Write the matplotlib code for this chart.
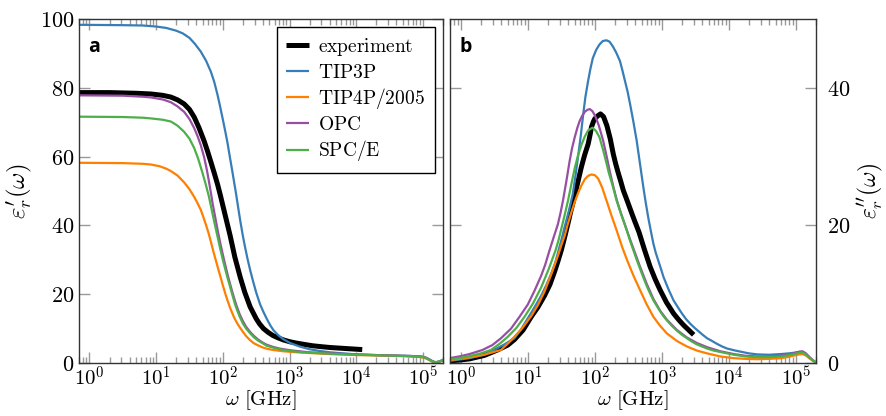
import numpy as np
import matplotlib
matplotlib.use("Agg")
import matplotlib.pyplot as plt
from matplotlib.ticker import FixedLocator, LogLocator, FuncFormatter, NullFormatter

plt.rcParams['mathtext.fontset'] = 'cm'

# ---- data (x given as log10 of omega in GHz) ----
series = ['experiment', 'TIP3P', 'TIP4P/2005', 'OPC', 'SPC/E']
colors = ['#000000', '#377eb8', '#ff7f00', '#984ea3', '#4daf4a']
widths = [3.6, 1.6, 1.6, 1.6, 1.6]

# panel a: real part eps'
exp_re_lw = [-0.15, 0.3, 0.7, 0.92, 1.1, 1.22, 1.32, 1.42, 1.5, 1.57, 1.64, 1.72, 1.77, 1.82, 1.87,
             1.92, 1.96, 2.0, 2.05, 2.11, 2.18, 2.26, 2.33, 2.41, 2.5, 2.55, 2.61, 2.68, 2.75, 2.83,
             2.91, 3.0, 3.1, 3.22, 3.35, 3.5, 3.61, 3.85, 4.09]
exp_re = [78.6, 78.6, 78.4, 78.2, 77.8, 77.3, 76.5, 75.3, 73.7, 71.5, 68.5, 64.5, 61.6, 58.5, 55.3,
          52.0, 49.0, 45.8, 41.8, 37.0, 30.8, 25.0, 20.5, 16.3, 12.9, 11.4, 10.0, 8.9, 8.0, 7.3,
          6.7, 6.2, 5.8, 5.4, 5.0, 4.7, 4.5, 4.2, 3.9]

tip3p_re_lw = [-0.15, 0.5, 0.8, 1.0, 1.15, 1.3, 1.4, 1.5, 1.58, 1.67, 1.75, 1.82, 1.87, 1.92, 1.96,
               2.0, 2.04, 2.07, 2.1, 2.14, 2.17, 2.2, 2.23, 2.26, 2.3, 2.33, 2.37, 2.41, 2.45, 2.5,
               2.56, 2.61, 2.66, 2.71, 2.76, 2.83, 2.9, 3.01, 3.15, 3.3, 3.45, 3.61, 3.8, 4.0, 4.3,
               4.6, 4.8, 4.92, 5.0, 5.05, 5.1, 5.14, 5.17, 5.2, 5.24, 5.28, 5.31]
tip3p_re = [98.3, 98.2, 98.1, 97.8, 97.4, 96.6, 95.8, 94.5, 92.8, 90.5, 87.8, 84.7, 81.8, 78.0, 74.5,
            70.8, 67.0, 64.0, 60.5, 56.0, 52.5, 49.0, 45.2, 41.5, 37.0, 34.0, 30.3, 27.0, 24.0, 20.5,
            17.0, 14.8, 12.8, 11.0, 9.5, 8.1, 7.0, 5.8, 4.8, 4.0, 3.5, 3.1, 2.8, 2.5, 2.3,
            2.15, 2.05, 1.95, 1.8, 1.5, 1.0, 0.55, 0.3, 0.25, 0.4, 0.7, 1.0]

tip4p_re_lw = [-0.15, 0.5, 0.8, 0.92, 1.05, 1.15, 1.22, 1.32, 1.42, 1.5, 1.57, 1.62, 1.67, 1.71, 1.75,
               1.79, 1.82, 1.86, 1.9, 1.94, 1.97, 2.0, 2.04, 2.07, 2.11, 2.15, 2.18, 2.22, 2.26, 2.3,
               2.35, 2.4, 2.46, 2.53, 2.6, 2.67, 2.75, 2.83, 2.91, 3.05, 3.2, 3.4, 3.61, 3.8, 4.0,
               4.3, 4.6, 4.8, 4.92, 5.0, 5.05, 5.1, 5.14, 5.17, 5.2, 5.24, 5.28, 5.31]
tip4p_re = [58.2, 58.1, 57.9, 57.7, 57.2, 56.5, 55.8, 54.5, 52.5, 50.5, 48.3, 46.5, 44.5, 42.3, 40.0,
            37.5, 35.3, 32.3, 29.5, 26.7, 24.7, 22.6, 20.0, 18.2, 16.0, 14.1, 12.8, 11.4, 10.2, 9.1,
            7.8, 6.8, 5.8, 5.1, 4.5, 4.1, 3.8, 3.6, 3.4, 3.2, 3.0, 2.8, 2.6, 2.45, 2.3,
            2.2, 2.05, 1.9, 1.8, 1.6, 1.3, 0.8, 0.4, 0.2, 0.15, 0.3, 0.6, 0.9]

opc_re_lw = [-0.15, 0.5, 0.8, 0.92, 1.1, 1.22, 1.32, 1.42, 1.5, 1.57, 1.62, 1.67, 1.72, 1.76, 1.79,
             1.82, 1.85, 1.88, 1.92, 1.96, 2.0, 2.04, 2.07, 2.1, 2.14, 2.18, 2.21, 2.25, 2.3, 2.35,
             2.41, 2.47, 2.53, 2.6, 2.66, 2.75, 2.85, 3.01, 3.15, 3.3, 3.45, 3.61, 3.8, 4.0, 4.3,
             4.6, 4.8, 4.92, 5.0, 5.05, 5.1, 5.14, 5.17, 5.2, 5.24, 5.28, 5.31]
opc_re = [77.8, 77.7, 77.4, 77.2, 76.6, 75.8, 74.6, 73.0, 70.9, 68.3, 66.0, 63.3, 59.8, 56.2, 53.0,
          49.6, 46.0, 43.0, 38.8, 35.0, 31.5, 28.2, 25.8, 23.6, 20.8, 18.2, 16.4, 14.3, 12.2, 10.5,
          9.0, 7.8, 6.8, 5.9, 5.3, 4.7, 4.2, 3.7, 3.4, 3.1, 2.95, 2.8, 2.65, 2.5, 2.3,
          2.15, 2.05, 1.95, 1.8, 1.5, 1.0, 0.55, 0.3, 0.25, 0.4, 0.7, 1.0]

spce_re_lw = [-0.15, 0.5, 0.8, 0.92, 1.1, 1.22, 1.32, 1.42, 1.5, 1.57, 1.63, 1.69, 1.74, 1.79, 1.82,
              1.85, 1.88, 1.92, 1.96, 2.0, 2.04, 2.07, 2.1, 2.14, 2.18, 2.21, 2.25, 2.3, 2.35, 2.41,
              2.47, 2.53, 2.6, 2.66, 2.75, 2.85, 3.01, 3.15, 3.3, 3.45, 3.61, 3.8, 4.0, 4.3, 4.6,
              4.8, 4.92, 5.0, 5.05, 5.1, 5.14, 5.17, 5.2, 5.24, 5.28, 5.31]
spce_re = [71.6, 71.5, 71.3, 71.1, 70.7, 70.2, 69.0, 67.2, 65.2, 62.5, 59.4, 55.6, 52.2, 48.5, 45.8,
           43.0, 40.3, 36.8, 33.3, 30.0, 27.0, 24.8, 22.8, 20.0, 17.3, 15.6, 13.6, 11.5, 10.0, 8.6,
           7.4, 6.5, 5.7, 5.0, 4.5, 4.0, 3.5, 3.2, 3.0, 2.85, 2.7, 2.55, 2.4, 2.25, 2.1,
           2.0, 1.9, 1.7, 1.4, 0.9, 0.5, 0.3, 0.25, 0.4, 0.7, 1.0]

# panel b: imaginary part eps''
exp_im_lw = [-0.17, 0.0, 0.13, 0.35, 0.55, 0.7, 0.8, 0.93, 1.05, 1.15, 1.25, 1.33, 1.4, 1.45, 1.5,
             1.55, 1.6, 1.64, 1.68, 1.74, 1.8, 1.85, 1.9, 1.93, 1.95, 1.98, 2.0, 2.04, 2.085, 2.13,
             2.18, 2.23, 2.275, 2.31, 2.35, 2.39, 2.425, 2.49, 2.55, 2.6, 2.66, 2.74, 2.825, 2.9,
             2.975, 3.07, 3.175, 3.25, 3.325, 3.4, 3.475]
exp_im = [0.3, 0.45, 0.6, 1.1, 1.9, 2.6, 3.4, 4.8, 6.7, 8.1, 9.8, 11.4, 13.3, 14.8, 16.4,
          18.3, 20.3, 22.0, 23.5, 26.0, 28.5, 30.3, 31.8, 33.2, 34.3, 35.1, 35.5, 35.9, 36.2, 35.8,
          34.5, 32.6, 30.4, 29.0, 27.6, 26.3, 25.1, 23.4, 21.8, 20.5, 19.0, 16.5, 14.0, 12.2,
          10.6, 8.8, 7.2, 6.3, 5.5, 4.8, 4.1]

tip3p_im_lw = [-0.17, 0.13, 0.35, 0.5, 0.65, 0.8, 0.9, 1.0, 1.1, 1.2, 1.28, 1.35, 1.41, 1.46, 1.51,
               1.55, 1.61, 1.67, 1.71, 1.75, 1.79, 1.825, 1.86, 1.9, 1.935, 1.97, 2.02, 2.07, 2.12,
               2.175, 2.22, 2.27, 2.32, 2.375, 2.41, 2.45, 2.49, 2.525, 2.575, 2.625, 2.675, 2.725,
               2.76, 2.8, 2.84, 2.875, 2.91, 2.95, 2.99, 3.025, 3.1, 3.175, 3.24, 3.3, 3.36, 3.425,
               3.49, 3.55, 3.61, 3.675, 3.75, 3.82, 3.9, 3.975, 4.1, 4.2, 4.3, 4.425, 4.6, 4.775,
               4.9, 4.98, 5.05, 5.1, 5.15, 5.2, 5.25, 5.31]
tip3p_im = [0.3, 0.7, 1.2, 1.9, 2.7, 3.6, 4.9, 6.5, 8.1, 9.8, 11.4, 13.0, 14.6, 16.4, 18.2,
            19.8, 22.0, 24.5, 27.1, 30.0, 33.0, 36.0, 38.7, 41.0, 42.8, 44.3, 45.5, 46.3, 46.8,
            46.9, 46.7, 46.0, 45.1, 43.9, 42.6, 41.0, 39.4, 37.7, 35.1, 32.3, 28.9, 25.5,
            23.3, 21.0, 19.0, 17.3, 16.0, 14.8, 13.6, 12.5, 10.7, 9.1, 8.1, 7.2, 6.4, 5.7,
            5.1, 4.6, 4.1, 3.6, 3.2, 2.8, 2.4, 2.1, 1.8, 1.6, 1.4, 1.25, 1.2, 1.3,
            1.4, 1.5, 1.6, 1.6, 1.3, 0.8, 0.4, 0.0]

tip4p_im_lw = [-0.17, 0.13, 0.35, 0.6, 0.7, 0.8, 0.92, 1.05, 1.15, 1.25, 1.35, 1.45, 1.5, 1.55, 1.6,
               1.65, 1.7, 1.75, 1.8, 1.85, 1.9, 1.95, 2.0, 2.05, 2.11, 2.175, 2.25, 2.325, 2.41, 2.5,
               2.59, 2.675, 2.775, 2.875, 2.975, 3.075, 3.225, 3.375, 3.525, 3.675, 3.875, 4.075,
               4.25, 4.425, 4.6, 4.775, 4.9, 4.98, 5.05, 5.1, 5.15, 5.2, 5.25, 5.31]
tip4p_im = [0.4, 0.8, 1.2, 1.9, 2.8, 3.8, 5.1, 6.8, 8.4, 10.4, 12.9, 15.6, 17.1, 18.5, 20.3,
            21.9, 23.4, 24.7, 25.8, 26.7, 27.2, 27.4, 27.3, 26.8, 25.5, 23.6, 21.4, 19.3, 16.8, 14.5,
            12.4, 10.6, 8.5, 6.7, 5.4, 4.3, 3.2, 2.4, 1.8, 1.4, 0.95, 0.7,
            0.6, 0.55, 0.6, 0.7, 0.9, 1.1, 1.25, 1.3, 1.1, 0.7, 0.35, 0.0]

opc_im_lw = [-0.17, 0.0, 0.13, 0.325, 0.47, 0.6, 0.75, 0.875, 1.0, 1.1, 1.2, 1.26, 1.325, 1.39, 1.45,
             1.49, 1.525, 1.575, 1.625, 1.66, 1.7, 1.74, 1.775, 1.81, 1.85, 1.89, 1.925, 1.965, 2.0,
             2.03, 2.06, 2.09, 2.125, 2.175, 2.225, 2.275, 2.325, 2.375, 2.425, 2.475, 2.525, 2.6,
             2.675, 2.775, 2.875, 2.975, 3.075, 3.225, 3.375, 3.525, 3.675, 3.875, 4.075, 4.25,
             4.425, 4.6, 4.775, 4.9, 4.98, 5.05, 5.1, 5.15, 5.2, 5.25, 5.31]
opc_im = [0.7, 1.0, 1.3, 1.9, 2.6, 3.6, 5.0, 6.7, 8.5, 10.5, 12.7, 14.3, 16.4, 18.4, 20.2,
          21.9, 23.6, 26.4, 29.4, 31.2, 32.8, 34.2, 35.2, 35.9, 36.5, 36.8, 36.9, 36.6, 36.0,
          35.3, 34.5, 33.5, 32.3, 30.1, 27.8, 25.7, 23.8, 22.2, 20.8, 19.4, 18.0, 16.0,
          14.0, 11.5, 9.3, 7.6, 6.3, 4.8, 3.7, 2.9, 2.3, 1.7, 1.3, 1.05,
          0.95, 0.95, 1.05, 1.25, 1.45, 1.65, 1.7, 1.4, 0.9, 0.45, 0.0]

spce_im_lw = [-0.17, 0.0, 0.13, 0.3, 0.45, 0.58, 0.7, 0.83, 0.95, 1.08, 1.2, 1.31, 1.415, 1.46, 1.5,
              1.55, 1.6, 1.65, 1.7, 1.75, 1.8, 1.85, 1.9, 1.965, 2.02, 2.07, 2.12, 2.175, 2.21, 2.25,
              2.29, 2.325, 2.36, 2.4, 2.44, 2.475, 2.525, 2.575, 2.625, 2.675, 2.725, 2.775, 2.825,
              2.875, 2.925, 2.975, 3.025, 3.075, 3.15, 3.225, 3.3, 3.375, 3.45, 3.525, 3.6, 3.675,
              3.775, 3.875, 3.975, 4.075, 4.25, 4.425, 4.6, 4.775, 4.9, 4.98, 5.05, 5.1, 5.15, 5.2,
              5.25, 5.31]
spce_im = [0.5, 0.75, 1.0, 1.4, 1.9, 2.8, 3.8, 5.1, 6.7, 8.7, 11.0, 13.6, 16.4, 17.9, 19.5,
           21.5, 23.6, 26.0, 28.3, 30.2, 31.7, 32.9, 33.8, 34.2, 33.7, 32.8, 31.1, 29.0, 27.6, 26.3,
           24.9, 23.6, 22.6, 21.4, 20.3, 19.3, 17.8, 16.4, 15.0, 13.7, 12.4, 11.2, 10.1,
           9.1, 8.3, 7.5, 6.8, 6.2, 5.4, 4.7, 4.1, 3.6, 3.1, 2.7, 2.4, 2.1,
           1.8, 1.6, 1.4, 1.2, 0.95, 0.85, 0.85, 0.95, 1.15, 1.3, 1.5, 1.5, 1.25, 0.8,
           0.4, 0.0]

re_data = [(exp_re_lw, exp_re), (tip3p_re_lw, tip3p_re), (tip4p_re_lw, tip4p_re),
           (opc_re_lw, opc_re), (spce_re_lw, spce_re)]
im_data = [(exp_im_lw, exp_im), (tip3p_im_lw, tip3p_im), (tip4p_im_lw, tip4p_im),
           (opc_im_lw, opc_im), (spce_im_lw, spce_im)]

xlim = (0.69, 2.0e5)
xticks = [1e0, 1e1, 1e2, 1e3, 1e4, 1e5]

fig = plt.figure(figsize=(8.86, 4.16), dpi=100)
axa = fig.add_axes([0.0888, 0.1274, 0.4112, 0.827])
axb = fig.add_axes([0.5079, 0.1274, 0.4131, 0.827])

tickgrey = '#999999'
for ax in (axa, axb):
    ax.set_xscale('log')
    ax.set_xlim(*xlim)
    ax.xaxis.set_major_locator(FixedLocator(xticks))
    ax.xaxis.set_minor_locator(LogLocator(base=10, subs=np.arange(2, 10), numticks=20))
    ax.xaxis.set_major_formatter(FuncFormatter(lambda v, p: r'$10^{%d}$' % round(np.log10(v))))
    ax.xaxis.set_minor_formatter(NullFormatter())
    ax.tick_params(which='both', direction='in', top=True, right=True, left=True,
                   color=tickgrey, width=1.0, labelsize=16)
    ax.tick_params(which='major', length=8)
    ax.tick_params(which='minor', length=4.5)
    ax.tick_params(axis='x', pad=2, labelsize=15)
    for s in ax.spines.values():
        s.set_color('#333333')
        s.set_linewidth(1.0)
    ax.set_xlabel(r'$\omega\ [\mathrm{GHz}]$', fontsize=15, labelpad=-1)

# panel a
for (lw_, v), name, c, w in zip(re_data, series, colors, widths):
    axa.plot(10 ** np.array(lw_), v, color=c, lw=w, label=r'$\mathrm{%s}$' % name,
             solid_capstyle='butt')
axa.set_ylim(0, 100)
axa.yaxis.set_major_locator(FixedLocator([0, 20, 40, 60, 80, 100]))
axa.yaxis.set_major_formatter(FuncFormatter(lambda v, p: r'$%d$' % v))
axa.tick_params(axis='y', pad=3)
axa.set_ylabel(r'$\varepsilon_r^{\prime}(\omega)$', fontsize=18, labelpad=4)
axa.text(0.026, 0.905, 'a', transform=axa.transAxes, fontsize=14, fontweight='bold',
         family='Open Sans')
leg = axa.legend(loc='upper right', bbox_to_anchor=(0.978, 0.978), borderaxespad=0,
                 fontsize=14, handlelength=1.15, labelspacing=0.22, handletextpad=0.5,
                 borderpad=0.5, fancybox=False, framealpha=1)
leg.get_frame().set_edgecolor('#000000')
leg.get_frame().set_linewidth(1.0)

# panel b
for (lw_, v), name, c, w in zip(im_data, series, colors, widths):
    axb.plot(10 ** np.array(lw_), v, color=c, lw=w, solid_capstyle='butt')
axb.set_ylim(0, 50)
axb.yaxis.set_major_locator(FixedLocator([0, 20, 40]))
axb.yaxis.set_major_formatter(FuncFormatter(lambda v, p: r'$%d$' % v))
axb.tick_params(axis='y', labelleft=False, labelright=True, pad=8)
axb.yaxis.set_label_position('right')
axb.set_ylabel(r'$\varepsilon_r^{\prime\prime}(\omega)$', fontsize=17, labelpad=4,
               rotation=90)
axb.text(0.026, 0.905, 'b', transform=axb.transAxes, fontsize=14, fontweight='bold',
         family='Open Sans')

fig.savefig('out.png', dpi=100)
